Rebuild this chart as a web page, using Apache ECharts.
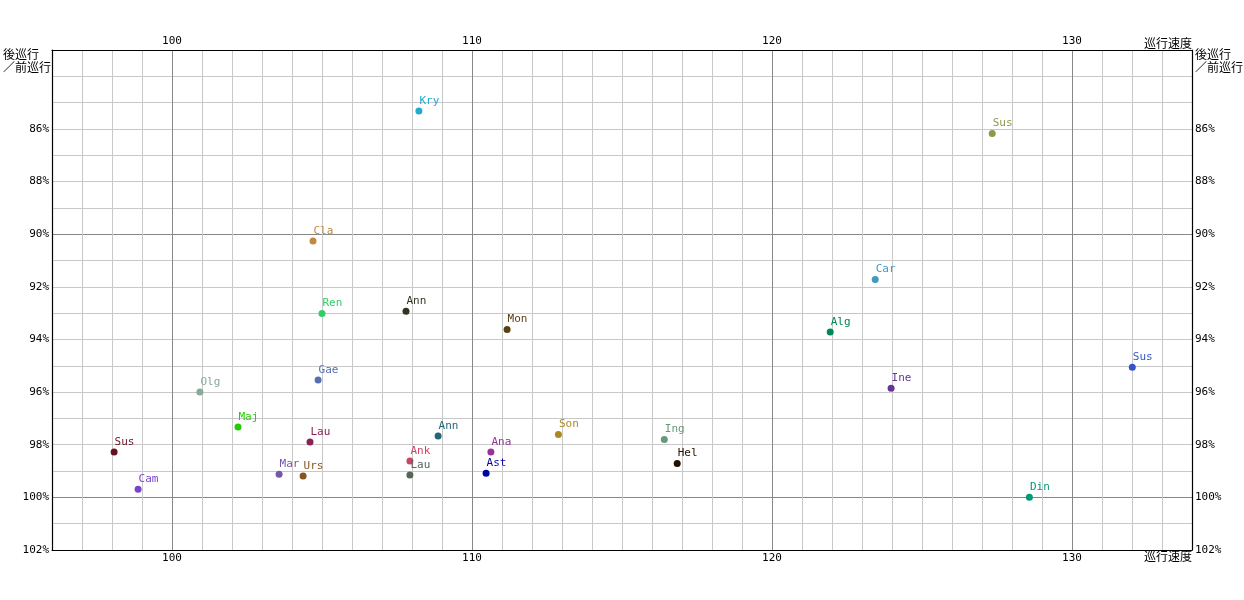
<!DOCTYPE html>
<html><head><meta charset="utf-8">
<script src="https://cdn.jsdelivr.net/npm/echarts@6/dist/echarts.min.js"></script>
<style>html,body{margin:0;padding:0;background:#fff}#c{width:1244px;height:600px}</style>
</head><body><div id="c"></div>
<script>
const names = ['Kry','Sus','Cla','Car','Ren','Ann','Mon','Alg','Sus','Gae','Ine','Olg','Maj','Lau','Ann','Son','Ing','Sus','Ana','Ank','Hel','Mar','Urs','Lau','Ast','Cam','Din'];
const speed = [108.23,127.34,104.70,123.44,105.00,107.80,111.17,121.94,132.01,104.87,123.97,100.93,102.20,104.60,108.87,112.88,116.41,98.07,110.63,107.93,116.84,103.57,104.37,107.93,110.47,98.87,128.58];
const ratio = [85.32,86.17,90.26,91.72,93.01,92.93,93.62,93.72,95.06,95.54,95.85,96.00,97.33,97.90,97.67,97.61,97.80,98.28,98.28,98.62,98.71,99.12,99.19,99.15,99.08,99.69,100.00];
const colors = ['#22aad0','#8a9a48','#c08a40','#4499c0','#33cc66','#333322','#5a4010','#008855','#3355cc','#5570b0','#663399','#88aa99','#22cc00','#882255','#226677','#aa8822','#669977','#661122','#993399','#cc4466','#221100','#7755aa','#885522','#556655','#0000aa','#7744cc','#009977'];
const xMin = 96, xMax = 134, yMin = 83, yMax = 102;
const xLabels = [100,110,120,130];
const yLabelsFrom = 86;

const light = '#c8c8c8', dark = '#888888';
const xSplitColors = Array.from({length:10},(_, i)=> (xMin + i) % 10 === 0 ? dark : light);
const ySplitColors = Array.from({length:10},(_, i)=> (yMin + i) % 10 === 0 ? dark : light);
const font = 'DejaVu Sans Mono';
const cjk = 'Noto Sans CJK JP';

const chart = echarts.init(document.getElementById('c'));
const xCommon = {
  type:'value', min:xMin, max:xMax, interval:1,
  axisLine:{show:true, onZero:false, lineStyle:{color:'#000', width:1.2}},
  axisTick:{show:false},
  axisLabel:{margin:3, color:'#000', fontFamily:font, fontSize:11,
    formatter:v=> xLabels.includes(v) ? String(v) : ''}
};
const yCommon = {
  type:'value', min:yMin, max:yMax, interval:1, inverse:true,
  axisLine:{show:true, onZero:false, lineStyle:{color:'#000', width:1.2}},
  axisTick:{show:false},
  axisLabel:{margin:3, color:'#000', fontFamily:font, fontSize:11,
    formatter:v=> (v >= yLabelsFrom && v % 2 === 0) ? v + '%' : ''}
};
chart.setOption({
  animation:false,
  backgroundColor:'#fff',
  grid:{left:52, right:52, top:50, bottom:50},
  xAxis:[
    Object.assign({}, xCommon, {position:'bottom', splitLine:{show:true, lineStyle:{color:xSplitColors, width:1}}}),
    Object.assign({}, xCommon, {position:'top', splitLine:{show:false}})
  ],
  yAxis:[
    Object.assign({}, yCommon, {position:'left', splitLine:{show:true, lineStyle:{color:ySplitColors, width:1}}}),
    Object.assign({}, yCommon, {position:'right', splitLine:{show:false}})
  ],
  graphic:[
    {type:'text', left:1144, top:37, style:{text:'巡行速度', fontFamily:cjk, fontSize:12, fill:'#000'}},
    {type:'text', left:1144, top:550, style:{text:'巡行速度', fontFamily:cjk, fontSize:12, fill:'#000'}},
    {type:'text', left:3, top:48, style:{text:'後巡行\n／前巡行', fontFamily:cjk, fontSize:12, lineHeight:13, fill:'#000'}},
    {type:'text', left:1195, top:48, style:{text:'後巡行\n／前巡行', fontFamily:cjk, fontSize:12, lineHeight:13, fill:'#000'}}
  ],
  series:[{
    type:'scatter', symbolSize:7,
    data: names.map((n,i)=>({value:[speed[i], ratio[i]], name:n,
      itemStyle:{color:colors[i], opacity:1},
      label:{color:colors[i]}})),
    label:{show:true, position:[4,-1], align:'left', verticalAlign:'bottom',
      formatter:p=>p.name, fontFamily:font, fontSize:11, opacity:1},
    emphasis:{disabled:true}
  }]
});
</script></body></html>
